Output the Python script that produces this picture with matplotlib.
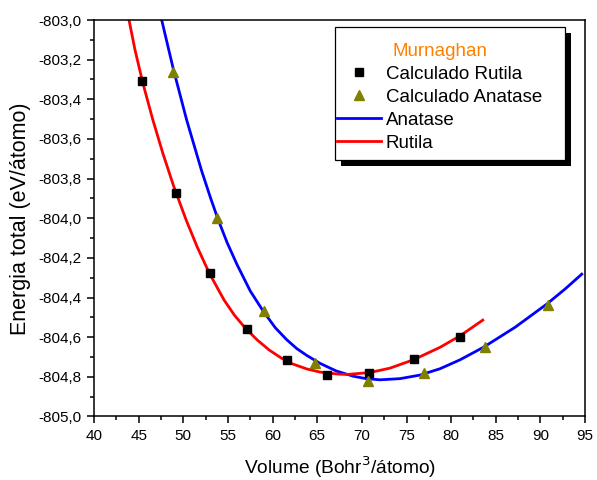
import numpy as np
import matplotlib.pyplot as plt
from matplotlib.ticker import MultipleLocator, FuncFormatter
from matplotlib.patches import Rectangle

plt.rcParams['font.family'] = ['Liberation Sans', 'DejaVu Sans']

# pontos calculados
vol_rut = [45.4, 49.2, 53.0, 57.1, 61.6, 66.1, 70.8, 75.8, 81.0]
e_rut = [-803.31, -803.874, -804.278, -804.56, -804.717, -804.79, -804.78, -804.71, -804.60]

vol_ana = [48.8, 53.8, 59.0, 64.7, 70.7, 77.0, 83.8, 90.8]
e_ana = [-803.26, -804.0, -804.47, -804.73, -804.82, -804.78, -804.65, -804.44]

# curvas de Murnaghan
v_fit_rut = [43.92, 44.59, 45.47, 46.59, 47.70, 48.95, 50.32, 51.56, 52.90, 54.56,
             55.71, 56.94, 58.28, 59.63, 60.97, 62.25, 63.82, 65.32, 67.33, 68.34,
             70.92, 73.16, 75.77, 78.76, 81.00, 83.54]
e_fit_rut = [-803.000, -803.151, -803.318, -803.504, -803.671, -803.842, -804.009, -804.145,
             -804.276, -804.412, -804.488, -804.554, -804.614, -804.665, -804.705, -804.735,
             -804.760, -804.776, -804.786, -804.788, -804.778, -804.756, -804.714, -804.651,
             -804.593, -804.514]

v_fit_ana = [47.58, 48.88, 50.38, 52.06, 53.07, 53.92, 54.90, 56.00, 57.50, 58.97,
             60.30, 61.59, 62.70, 63.83, 65.32, 67.11, 69.05, 70.47, 72.04, 74.28,
             76.52, 78.76, 81.00, 83.61, 87.16, 90.71, 92.76, 94.63]
e_fit_ana = [-803.000, -803.247, -803.505, -803.762, -803.900, -804.009, -804.122, -804.232,
             -804.367, -804.470, -804.552, -804.613, -804.657, -804.692, -804.732, -804.770,
             -804.797, -804.809, -804.815, -804.809, -804.791, -804.759, -804.714, -804.651,
             -804.550, -804.433, -804.357, -804.282]

fig = plt.figure(figsize=(5.97, 4.8), dpi=100)
ax = fig.add_axes([0.1575, 0.1323, 0.8225, 0.826])

ax.plot(vol_rut, e_rut, 's', color='black', ms=5.8, label='Calculado Rutila', zorder=3)
ax.plot(vol_ana, e_ana, '^', color='#808000', ms=7, label='Calculado Anatase', zorder=3)
ax.plot(v_fit_ana, e_fit_ana, '-', color='#0000ff', lw=2, label='Anatase', zorder=2)
ax.plot(v_fit_rut, e_fit_rut, '-', color='#ff0000', lw=2, label='Rutila', zorder=2)

ax.set_xlim(40, 95)
ax.set_ylim(-805.0, -803.0)
ax.xaxis.set_major_locator(MultipleLocator(5))
ax.xaxis.set_minor_locator(MultipleLocator(2.5))
ax.yaxis.set_major_locator(MultipleLocator(0.2))
ax.yaxis.set_minor_locator(MultipleLocator(0.1))
ax.yaxis.set_major_formatter(FuncFormatter(lambda y, p: f'{y:.1f}'.replace('.', ',')))
ax.tick_params(which='both', direction='out', top=False, right=False, width=1.1,
               labelsize=11, pad=4)
ax.tick_params(which='major', length=5)
ax.tick_params(which='minor', length=3)
for s in ax.spines.values():
    s.set_linewidth(1.1)

ax.set_xlabel('Volume (Bohr$^3$/átomo)', fontsize=13.8, labelpad=8)
ax.set_ylabel('Energia total (eV/átomo)', fontsize=15.5, labelpad=5)

# caixa da legenda com sombra preta
ax.add_patch(Rectangle((0.503, 0.6318), 0.4685, 0.3354, transform=ax.transAxes,
                       facecolor='black', edgecolor='none', zorder=4))
ax.add_patch(Rectangle((0.4908, 0.6469), 0.4685, 0.3354, transform=ax.transAxes,
                       facecolor='white', edgecolor='black', lw=0.9, zorder=5))

leg = ax.legend(loc='upper left', bbox_to_anchor=(0.4949, 0.942), borderaxespad=0,
                title='Murnaghan', fontsize=13.5, title_fontsize=13.5, frameon=False,
                handlelength=2.35, handletextpad=0.25, labelspacing=0.31, borderpad=0)
leg.get_title().set_color('#ff8000')
leg.set_zorder(6)

plt.savefig('out.png', dpi=100)
plt.close()
